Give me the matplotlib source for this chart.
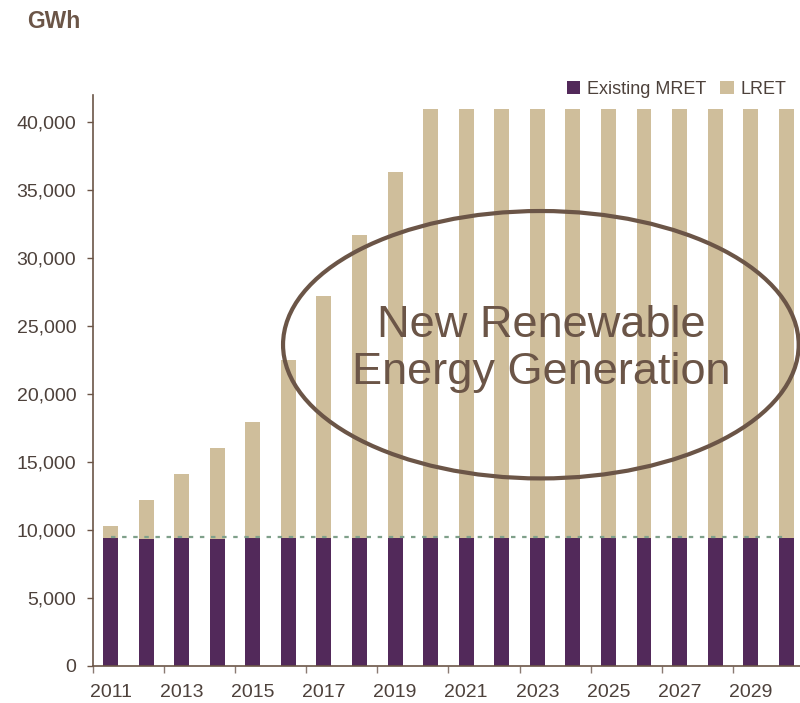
import numpy as np
import matplotlib
matplotlib.use("Agg")
import matplotlib.pyplot as plt
from matplotlib.patches import Ellipse

plt.rcParams['font.family'] = ['Liberation Sans', 'DejaVu Sans']

# Datos (GWh)
anios = list(range(2011, 2031))
mret = [9400, 9330, 9400, 9330, 9400, 9400, 9400, 9400, 9400, 9400,
        9400, 9400, 9400, 9400, 9400, 9400, 9400, 9400, 9400, 9400]
total = [10300, 12200, 14100, 16000, 17900, 22500, 27200, 31700, 36300, 41000,
         41000, 41000, 41000, 41000, 41000, 41000, 41000, 41000, 41000, 41000]
lret = [t - m for t, m in zip(total, mret)]
nivel_mret = 9470

# Colores
morado = '#52295a'
beige = '#cfbe9b'
cafe = '#6b5547'
texto = '#4d413b'
verde = '#7fa08a'

fig = plt.figure(figsize=(8, 7.03), dpi=100)
ax = fig.add_axes([0.116, 0.0531, 0.889, 0.8118])

x = np.arange(len(anios))
ax.bar(x, mret, width=0.42, color=morado, label='Existing MRET')
ax.bar(x, lret, width=0.42, bottom=mret, color=beige, label='LRET')
ax.hlines(nivel_mret, 0, len(anios) - 1, colors=verde, linewidth=1.6,
          linestyles=(0, (2, 3)))

ax.set_xlim(-0.5, len(anios) - 0.5)
ax.set_ylim(0, 42000)

# Eje y
ax.set_yticks(np.arange(0, 40001, 5000))
ax.set_yticklabels([f"{v:,}" for v in range(0, 40001, 5000)])
ax.tick_params(axis='y', length=4, width=1, color=cafe, labelcolor=texto,
               labelsize=14, pad=8)

# Eje x: marcas entre barras, etiquetas en anios impares
ax.set_xticks(np.arange(-0.5, len(anios), 2))
ax.set_xticklabels([])
ax.set_xticks(x[::2], minor=True)
ax.set_xticklabels([str(a) for a in anios[::2]], minor=True)
ax.tick_params(axis='x', which='major', length=5, width=1, color='#8a7a72')
ax.tick_params(axis='x', which='minor', length=0, labelcolor=texto,
               labelsize=14, pad=13)

for s in ['top', 'right']:
    ax.spines[s].set_visible(False)
for s in ['left', 'bottom']:
    ax.spines[s].set_color(cafe)
    ax.spines[s].set_linewidth(1.2)

# Elipse y texto
elipse = Ellipse((12.1, 23620), width=14.5, height=19680, fill=False,
                 edgecolor=cafe, linewidth=3, clip_on=False)
ax.add_patch(elipse)
ax.text(12.1, 23300, "New Renewable\nEnergy Generation", ha='center',
        va='center', fontsize=32.5, color=cafe, linespacing=1.2)

# Leyenda
leg = ax.legend(loc='upper right', bbox_to_anchor=(0.985, 1.038), ncol=2,
                frameon=False, fontsize=13, handlelength=0.75,
                handleheight=0.75, handletextpad=0.35, columnspacing=0.8,
                borderaxespad=0)
for t in leg.get_texts():
    t.set_color(texto)

fig.text(0.034, 0.96, "GWh", fontsize=16.5, fontweight='bold', color=cafe,
         ha='left', va='baseline')

fig.savefig("out.png", dpi=100)
